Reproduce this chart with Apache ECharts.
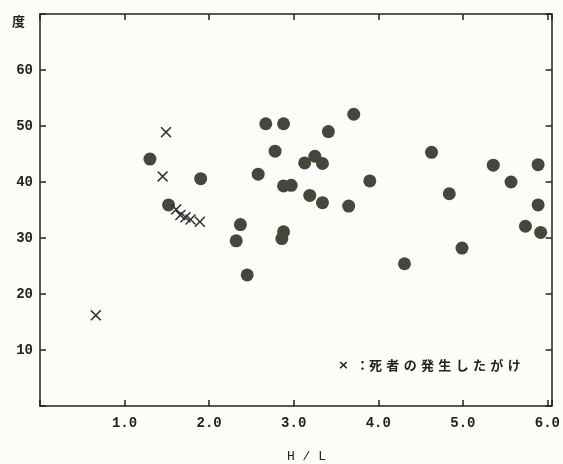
<!DOCTYPE html>
<html>
<head>
<meta charset="utf-8">
<script src="https://cdn.jsdelivr.net/npm/echarts@6/dist/echarts.min.js"></script>
<style>
html,body{margin:0;padding:0;background:#fcfcf9;}
#c{width:563px;height:464px;}
</style>
</head>
<body>
<div id="c"></div>
<script>
// H/L values and angle (度) values
var dotX = [1.30,1.90,1.52,2.37,2.32,2.45,2.67,2.88,3.71,3.41,2.78,3.25,3.13,3.34,2.58,3.90,2.88,2.97,3.19,3.34,3.65,2.88,2.86,4.63,5.36,5.89,5.57,4.84,5.89,5.74,5.92,4.99,4.31];
var dotY = [44.1,40.6,35.9,32.4,29.5,23.4,50.4,50.4,52.1,49.0,45.5,44.6,43.4,43.3,41.4,40.2,39.3,39.4,37.6,36.3,35.7,31.1,29.9,45.3,43.0,43.1,40.0,37.9,35.9,32.1,31.0,28.2,25.4];
var crossX = [1.49,1.45,0.66,1.61,1.66,1.72,1.78,1.89];
var crossY = [48.9,41.0,16.2,35.1,34.1,33.7,33.3,32.9];
var xTicks = ['1.0','2.0','3.0','4.0','5.0','6.0'];
var yTicks = [10,20,30,40,50,60];
var legendMark = '×';
var legendColon = '：';
var legendLabel = '死者の発生したがけ';
var xName = 'H / L';
var yName = '度';

function zip(a,b){return a.map(function(v,i){return [v,b[i]];});}
var chart = echarts.init(document.getElementById('c'));
var mono = 'Liberation Mono';
var lineStyle = {color:'#222', width:1.5};
function xAx(pos, showLabel){
  return {type:'value', position:pos, min:0, max:6.05, interval:1,
    axisLine:{show:true, onZero:false, lineStyle:lineStyle},
    axisTick:{show:true, inside:true, length:6, lineStyle:lineStyle},
    splitLine:{show:false},
    axisLabel:{show:showLabel, margin:10, fontFamily:mono, fontWeight:'bold', fontSize:14, color:'#222',
      formatter:function(v){var i=Math.round(v); return (Math.abs(v-i)<1e-6 && i>=1 && i<=6)? xTicks[i-1] : '';}}
  };
}
function yAx(pos, showLabel){
  return {type:'value', position:pos, min:0, max:70, interval:10,
    axisLine:{show:true, onZero:false, lineStyle:lineStyle},
    axisTick:{show:true, inside:true, length:6, lineStyle:lineStyle},
    splitLine:{show:false},
    axisLabel:{show:showLabel, margin:7, fontFamily:mono, fontWeight:'bold', fontSize:14, color:'#222',
      formatter:function(v){return yTicks.indexOf(v)>=0 ? String(v) : '';}}
  };
}
chart.setOption({
  backgroundColor:'#fcfcf9',
  animation:false,
  grid:{left:40, right:8, top:14, bottom:58},
  xAxis:[xAx('bottom',true), xAx('top',false)],
  yAxis:[yAx('left',true), yAx('right',false)],
  series:[
    {type:'scatter', data:zip(dotX,dotY), symbol:'circle', symbolSize:13,
     itemStyle:{color:'#46463a', opacity:1}},
    {type:'scatter', data:zip(crossX,crossY),
     symbol:'path://M0,1L1,0L5,4L9,0L10,1L6,5L10,9L9,10L5,6L1,10L0,9L4,5Z', symbolSize:11,
     itemStyle:{color:'#333', opacity:1}}
  ],
  graphic:[
    {type:'text', left:12, top:15, style:{text:yName, font:'bold 13px "Noto Sans CJK JP"', fill:'#222'}},
    {type:'text', left:287, top:450, style:{text:xName, font:'13px '+mono, fill:'#222'}},
    {type:'text', left:338, top:359, style:{text:legendMark, font:'bold 13px "DejaVu Sans"', fill:'#222'}},
    {type:'text', left:356, top:359, style:{text:legendColon, font:'bold 13px "Noto Sans CJK JP"', fill:'#222'}},
    {type:'text', left:369, top:359, style:{text:legendLabel.split('').join('\u2004'), font:'bold 13px "Noto Sans CJK JP"', fill:'#222'}}
  ]
});
</script>
</body>
</html>
